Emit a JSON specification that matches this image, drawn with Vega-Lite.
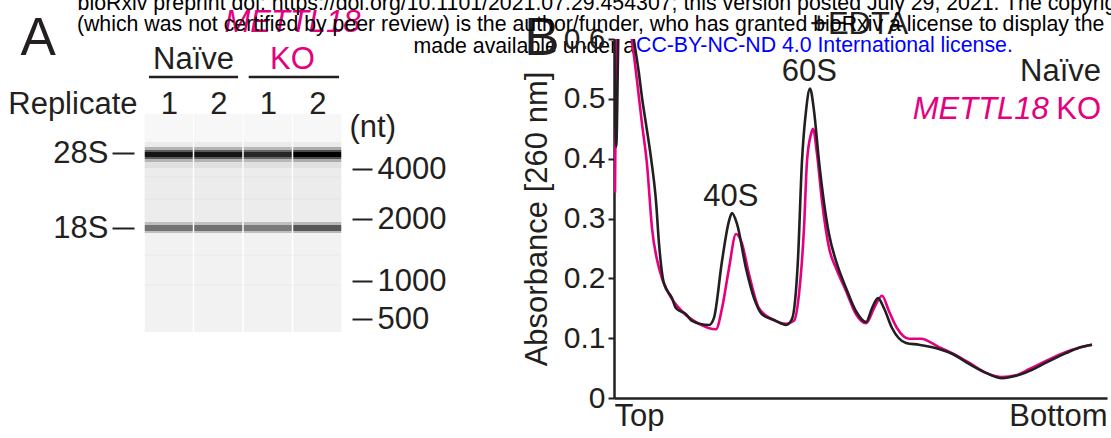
{
  "$schema": "https://vega.github.io/schema/vega-lite/v6.json",
  "background": "white",
  "padding": {"left": 7, "top": -8, "right": 0, "bottom": 0},
  "config": {
    "font": "Liberation Sans",
    "view": {"stroke": null},
    "axis": {"grid": false, "labelFont": "Liberation Sans", "titleFont": "Liberation Sans"},
    "text": {"font": "Liberation Sans"},
    "title": {"font": "Liberation Sans", "fontWeight": "normal"}
  },
  "title": {
    "text": ["bioRxiv preprint doi: https://doi.org/10.1101/2021.07.29.454307; this version posted July 29, 2021. The copyright holder for this preprint", "(which was not certified by peer review) is the author/funder, who has granted bioRxiv a license to display the preprint in perpetuity. It is"],
    "fontSize": 21.3, "fontWeight": "normal", "color": "#000000",
    "lineHeight": 21.5,
    "anchor": "middle", "offset": -28.5, "dx": 155
  },
  "datasets": {
    "gel": [
      {"lane":1,"top":0,"bottom":218,"density":0.05},{"lane":1,"top":0,"bottom":28,"density":0.03},{"lane":1,"top":28,"bottom":33,"density":0.08},{"lane":1,"top":33,"bottom":36,"density":0.3},{"lane":1,"top":36,"bottom":38,"density":0.64},{"lane":1,"top":38,"bottom":43,"density":0.92},{"lane":1,"top":43,"bottom":45,"density":0.64},{"lane":1,"top":45,"bottom":48,"density":0.3},{"lane":1,"top":48,"bottom":54,"density":0.12},{"lane":1,"top":54,"bottom":108,"density":0.075},{"lane":1,"top":62,"bottom":64,"density":0.09},{"lane":1,"top":84,"bottom":86,"density":0.09},{"lane":1,"top":108,"bottom":111,"density":0.25},{"lane":1,"top":111,"bottom":117,"density":0.55},{"lane":1,"top":117,"bottom":119,"density":0.25},{"lane":1,"top":140,"bottom":142,"density":0.065},{"lane":1,"top":170,"bottom":172,"density":0.065},
      {"lane":2,"top":0,"bottom":218,"density":0.05},{"lane":2,"top":0,"bottom":28,"density":0.03},{"lane":2,"top":28,"bottom":33,"density":0.08},{"lane":2,"top":33,"bottom":36,"density":0.3},{"lane":2,"top":36,"bottom":38,"density":0.64},{"lane":2,"top":38,"bottom":43,"density":0.92},{"lane":2,"top":43,"bottom":45,"density":0.64},{"lane":2,"top":45,"bottom":48,"density":0.3},{"lane":2,"top":48,"bottom":54,"density":0.12},{"lane":2,"top":54,"bottom":108,"density":0.075},{"lane":2,"top":62,"bottom":64,"density":0.09},{"lane":2,"top":84,"bottom":86,"density":0.09},{"lane":2,"top":108,"bottom":111,"density":0.25},{"lane":2,"top":111,"bottom":117,"density":0.56},{"lane":2,"top":117,"bottom":119,"density":0.25},{"lane":2,"top":140,"bottom":142,"density":0.065},{"lane":2,"top":170,"bottom":172,"density":0.065},
      {"lane":3,"top":0,"bottom":218,"density":0.05},{"lane":3,"top":0,"bottom":28,"density":0.03},{"lane":3,"top":28,"bottom":33,"density":0.08},{"lane":3,"top":33,"bottom":36,"density":0.28},{"lane":3,"top":36,"bottom":38,"density":0.6},{"lane":3,"top":38,"bottom":43,"density":0.85},{"lane":3,"top":43,"bottom":45,"density":0.6},{"lane":3,"top":45,"bottom":48,"density":0.28},{"lane":3,"top":48,"bottom":54,"density":0.12},{"lane":3,"top":54,"bottom":108,"density":0.075},{"lane":3,"top":62,"bottom":64,"density":0.09},{"lane":3,"top":84,"bottom":86,"density":0.09},{"lane":3,"top":108,"bottom":111,"density":0.25},{"lane":3,"top":111,"bottom":117,"density":0.52},{"lane":3,"top":117,"bottom":119,"density":0.25},{"lane":3,"top":140,"bottom":142,"density":0.065},{"lane":3,"top":170,"bottom":172,"density":0.065},
      {"lane":4,"top":0,"bottom":218,"density":0.05},{"lane":4,"top":0,"bottom":28,"density":0.03},{"lane":4,"top":28,"bottom":33,"density":0.08},{"lane":4,"top":33,"bottom":36,"density":0.33},{"lane":4,"top":36,"bottom":38,"density":0.7},{"lane":4,"top":38,"bottom":43,"density":1.0},{"lane":4,"top":43,"bottom":45,"density":0.7},{"lane":4,"top":45,"bottom":48,"density":0.33},{"lane":4,"top":48,"bottom":54,"density":0.12},{"lane":4,"top":54,"bottom":108,"density":0.075},{"lane":4,"top":62,"bottom":64,"density":0.09},{"lane":4,"top":84,"bottom":86,"density":0.09},{"lane":4,"top":108,"bottom":111,"density":0.28},{"lane":4,"top":111,"bottom":117,"density":0.66},{"lane":4,"top":117,"bottom":119,"density":0.28},{"lane":4,"top":140,"bottom":142,"density":0.065},{"lane":4,"top":170,"bottom":172,"density":0.065}
    ],
    "ladder": [{"nt":4000,"migration":55},{"nt":2000,"migration":105},{"nt":1000,"migration":167},{"nt":500,"migration":205}],
    "spans": [{"group":"Naïve","from":0.6,"to":2.4,"level":-37},{"group":"METTL18 KO","from":2.615,"to":4.44,"level":-37}],
    "headA": [
      {"label":"Naïve","lane":1.5,"migration":-45,"kind":"black","size":31},
      {"label":"KO","lane":3.5,"migration":-45,"kind":"ko","size":31},
      {"label":"METTL18","lane":3.5,"migration":-82,"kind":"italic","size":31},
      {"label":"A","lane":-1.64,"migration":-59,"kind":"black","size":53}
    ],
    "profile": [
      {"group":"METTL18 KO","position":0.2,"absorbance":0.343},{"group":"METTL18 KO","position":0.6,"absorbance":0.62},{"group":"METTL18 KO","position":1.5,"absorbance":0.68},{"group":"METTL18 KO","position":3.65,"absorbance":0.597},{"group":"METTL18 KO","position":4.67,"absorbance":0.53},{"group":"METTL18 KO","position":5.68,"absorbance":0.458},{"group":"METTL18 KO","position":6.69,"absorbance":0.391},{"group":"METTL18 KO","position":7.71,"absorbance":0.284},{"group":"METTL18 KO","position":9.13,"absorbance":0.217},{"group":"METTL18 KO","position":11.16,"absorbance":0.174},{"group":"METTL18 KO","position":13.79,"absorbance":0.145},{"group":"METTL18 KO","position":17.24,"absorbance":0.124},{"group":"METTL18 KO","position":20.69,"absorbance":0.115},{"group":"METTL18 KO","position":21.91,"absorbance":0.15},{"group":"METTL18 KO","position":23.33,"absorbance":0.217},{"group":"METTL18 KO","position":24.75,"absorbance":0.274},{"group":"METTL18 KO","position":25.96,"absorbance":0.258},{"group":"METTL18 KO","position":27.38,"absorbance":0.207},{"group":"METTL18 KO","position":29.41,"absorbance":0.15},{"group":"METTL18 KO","position":32.05,"absorbance":0.132},{"group":"METTL18 KO","position":34.89,"absorbance":0.124},{"group":"METTL18 KO","position":36.51,"absorbance":0.129},{"group":"METTL18 KO","position":37.53,"absorbance":0.174},{"group":"METTL18 KO","position":38.54,"absorbance":0.284},{"group":"METTL18 KO","position":39.15,"absorbance":0.396},{"group":"METTL18 KO","position":39.96,"absorbance":0.441},{"group":"METTL18 KO","position":40.37,"absorbance":0.45},{"group":"METTL18 KO","position":41.18,"absorbance":0.408},{"group":"METTL18 KO","position":42.19,"absorbance":0.329},{"group":"METTL18 KO","position":43.61,"absorbance":0.251},{"group":"METTL18 KO","position":45.03,"absorbance":0.217},{"group":"METTL18 KO","position":47.06,"absorbance":0.179},{"group":"METTL18 KO","position":49.09,"absorbance":0.14},{"group":"METTL18 KO","position":51.12,"absorbance":0.125},{"group":"METTL18 KO","position":52.74,"absorbance":0.15},{"group":"METTL18 KO","position":54.36,"absorbance":0.171},{"group":"METTL18 KO","position":55.78,"absorbance":0.145},{"group":"METTL18 KO","position":57.4,"absorbance":0.117},{"group":"METTL18 KO","position":59.84,"absorbance":0.099},{"group":"METTL18 KO","position":62.27,"absorbance":0.099},{"group":"METTL18 KO","position":65.92,"absorbance":0.085},{"group":"METTL18 KO","position":68.56,"absorbance":0.075},{"group":"METTL18 KO","position":72.01,"absorbance":0.059},{"group":"METTL18 KO","position":75.46,"absorbance":0.042},{"group":"METTL18 KO","position":78.7,"absorbance":0.035},{"group":"METTL18 KO","position":81.54,"absorbance":0.038},{"group":"METTL18 KO","position":84.18,"absorbance":0.048},{"group":"METTL18 KO","position":87.63,"absorbance":0.062},{"group":"METTL18 KO","position":91.68,"absorbance":0.077},{"group":"METTL18 KO","position":94.32,"absorbance":0.084},{"group":"METTL18 KO","position":96.96,"absorbance":0.089},
      {"group":"Naïve","position":0.0,"absorbance":0.64},{"group":"Naïve","position":0.45,"absorbance":0.42},{"group":"Naïve","position":1.0,"absorbance":0.64},{"group":"Naïve","position":2.5,"absorbance":0.68},{"group":"Naïve","position":4.06,"absorbance":0.597},{"group":"Naïve","position":5.07,"absorbance":0.542},{"group":"Naïve","position":5.68,"absorbance":0.502},{"group":"Naïve","position":6.49,"absorbance":0.458},{"group":"Naïve","position":7.51,"absorbance":0.401},{"group":"Naïve","position":8.52,"absorbance":0.329},{"group":"Naïve","position":9.13,"absorbance":0.258},{"group":"Naïve","position":10.14,"absorbance":0.191},{"group":"Naïve","position":11.76,"absorbance":0.167},{"group":"Naïve","position":12.58,"absorbance":0.15},{"group":"Naïve","position":14.6,"absorbance":0.14},{"group":"Naïve","position":15.82,"absorbance":0.129},{"group":"Naïve","position":19.27,"absorbance":0.122},{"group":"Naïve","position":20.28,"absorbance":0.134},{"group":"Naïve","position":21.91,"absorbance":0.229},{"group":"Naïve","position":23.33,"absorbance":0.296},{"group":"Naïve","position":23.94,"absorbance":0.309},{"group":"Naïve","position":24.95,"absorbance":0.291},{"group":"Naïve","position":26.77,"absorbance":0.217},{"group":"Naïve","position":28.4,"absorbance":0.167},{"group":"Naïve","position":30.02,"absorbance":0.14},{"group":"Naïve","position":32.86,"absorbance":0.129},{"group":"Naïve","position":34.89,"absorbance":0.122},{"group":"Naïve","position":36.1,"absorbance":0.132},{"group":"Naïve","position":37.3,"absorbance":0.229},{"group":"Naïve","position":38.13,"absorbance":0.396},{"group":"Naïve","position":38.95,"absorbance":0.48},{"group":"Naïve","position":39.76,"absorbance":0.517},{"group":"Naïve","position":40.57,"absorbance":0.48},{"group":"Naïve","position":41.58,"absorbance":0.396},{"group":"Naïve","position":43.61,"absorbance":0.274},{"group":"Naïve","position":45.23,"absorbance":0.224},{"group":"Naïve","position":47.06,"absorbance":0.184},{"group":"Naïve","position":49.09,"absorbance":0.145},{"group":"Naïve","position":51.12,"absorbance":0.127},{"group":"Naïve","position":52.33,"absorbance":0.15},{"group":"Naïve","position":53.55,"absorbance":0.167},{"group":"Naïve","position":54.77,"absorbance":0.15},{"group":"Naïve","position":56.39,"absorbance":0.117},{"group":"Naïve","position":59.23,"absorbance":0.092},{"group":"Naïve","position":61.87,"absorbance":0.089},{"group":"Naïve","position":65.92,"absorbance":0.082},{"group":"Naïve","position":68.56,"absorbance":0.074},{"group":"Naïve","position":72.01,"absorbance":0.057},{"group":"Naïve","position":75.46,"absorbance":0.042},{"group":"Naïve","position":78.7,"absorbance":0.033},{"group":"Naïve","position":81.54,"absorbance":0.037},{"group":"Naïve","position":84.18,"absorbance":0.045},{"group":"Naïve","position":87.63,"absorbance":0.059},{"group":"Naïve","position":91.68,"absorbance":0.075},{"group":"Naïve","position":94.32,"absorbance":0.084},{"group":"Naïve","position":96.96,"absorbance":0.089}
    ],
    "annotB": [
      {"label":"40S","position":23.7,"absorbance":0.321,"kind":"black","size":31},
      {"label":"60S","position":39.6,"absorbance":0.53,"kind":"black","size":31},
      {"label":"+EDTA","position":49.7,"absorbance":0.609,"kind":"black","size":31},
      {"label":"B","position":-14.6,"absorbance":0.574,"kind":"black","size":53},
      {"label":"Naïve","position":98.8,"absorbance":0.53,"kind":"legend","size":31},
      {"label":"METTL18","position":88.2,"absorbance":0.467,"kind":"italic","size":31},
      {"label":"KO","position":98.8,"absorbance":0.467,"kind":"ko","size":31}
    ]
  },
  "bounds": "flush",
  "spacing": 267,
  "hconcat": [
    {
      "width": 208,
      "height": 293,
      "title": {"text": "made available under a", "anchor": "end", "frame": "group", "dx": 288, "offset": -50, "fontSize": 21.3, "fontWeight": "normal", "color": "#000000"},
      "layer": [
        {
          "data": {"name": "gel"},
          "mark": {"type": "bar", "size": 48, "orient": "vertical"},
          "encoding": {
            "x": {"field": "lane", "type": "quantitative", "scale": {"domain": [0.5, 4.5], "nice": false, "zero": false},
              "axis": {"orient": "top", "offset": -75, "values": [1, 2, 3, 4], "labelExpr": "datum.value > 2 ? format(datum.value - 2, 'd') : format(datum.value, 'd')", "domain": false, "ticks": false, "tickSize": 0, "labelPadding": 1, "labelBaseline": "alphabetic", "labelAngle": 0, "labelFontSize": 31, "labelColor": "#231f20", "title": "Replicate", "titleFontSize": 31, "titleFontWeight": "normal", "titleColor": "#231f20", "titleAngle": 0, "titleAlign": "right", "titleBaseline": "alphabetic", "titleX": -2, "titleY": -1}},
            "y": {"field": "top", "type": "quantitative", "scale": {"domain": [-75, 218], "reverse": true, "nice": false, "zero": false},
              "axis": {"orient": "left", "offset": 5, "values": [39, 114], "labelExpr": "datum.value < 80 ? '28S' : '18S'", "domain": false, "tickSize": 22, "tickWidth": 2, "tickColor": "#231f20", "labelPadding": 4, "labelFontSize": 31, "labelColor": "#231f20", "title": null}},
            "y2": {"field": "bottom"},
            "color": {"field": "density", "type": "quantitative", "scale": {"domain": [0, 1], "range": ["#ffffff", "#000000"], "interpolate": "rgb"}, "legend": null}
          }
        },
        {
          "data": {"name": "ladder"},
          "mark": {"type": "point", "opacity": 0},
          "encoding": {
            "y": {"field": "migration", "type": "quantitative", "scale": {"domain": [-75, 218], "reverse": true, "nice": false, "zero": false},
              "axis": {"orient": "right", "offset": 5, "values": [55, 105, 167, 205], "labelExpr": "datum.value == 55 ? '4000' : datum.value == 105 ? '2000' : datum.value == 167 ? '1000' : '500'", "domain": false, "tickSize": 20, "tickWidth": 2, "tickColor": "#231f20", "labelPadding": 5, "labelFontSize": 31, "labelColor": "#231f20", "title": "(nt)", "titleFontSize": 31, "titleFontWeight": "normal", "titleColor": "#231f20", "titleAngle": 0, "titleAlign": "left", "titleBaseline": "alphabetic", "titleX": -3, "titleY": 97}}
          }
        },
        {
          "data": {"name": "spans"},
          "mark": {"type": "rule", "strokeWidth": 2.5, "color": "#231f20"},
          "encoding": {
            "x": {"field": "from", "type": "quantitative", "axis": null},
            "x2": {"field": "to"},
            "y": {"field": "level", "type": "quantitative", "axis": null}
          }
        },
        {
          "data": {"name": "headA"},
          "transform": [{"filter": "datum.kind == 'black'"}],
          "mark": {"type": "text", "color": "#231f20", "align": "center", "baseline": "alphabetic"},
          "encoding": {
            "x": {"field": "lane", "type": "quantitative", "axis": null},
            "y": {"field": "migration", "type": "quantitative", "axis": null},
            "text": {"field": "label"},
            "size": {"field": "size", "type": "quantitative", "scale": null}
          }
        },
        {
          "data": {"name": "headA"},
          "transform": [{"filter": "datum.kind == 'ko'"}],
          "mark": {"type": "text", "color": "#e5007f", "align": "center", "baseline": "alphabetic", "fontSize": 31},
          "encoding": {
            "x": {"field": "lane", "type": "quantitative", "axis": null},
            "y": {"field": "migration", "type": "quantitative", "axis": null},
            "text": {"field": "label"}
          }
        },
        {
          "data": {"name": "headA"},
          "transform": [{"filter": "datum.kind == 'italic'"}],
          "mark": {"type": "text", "color": "#e5007f", "align": "center", "baseline": "alphabetic", "fontSize": 31, "fontStyle": "italic"},
          "encoding": {
            "x": {"field": "lane", "type": "quantitative", "axis": null},
            "y": {"field": "migration", "type": "quantitative", "axis": null},
            "text": {"field": "label"}
          }
        }
      ],
      "resolve": {"axis": {"x": "independent", "y": "independent"}}
    },
    {
      "width": 493,
      "height": 359,
      "title": {"text": "CC-BY-NC-ND 4.0 International license.", "anchor": "start", "frame": "group", "dx": 22, "offset": -48, "fontSize": 21.3, "fontWeight": "normal", "color": "#0000ff"},
      "layer": [
        {
          "data": {"name": "profile"},
          "transform": [{"filter": "datum.group == 'METTL18 KO'"}],
          "mark": {"type": "line", "color": "#e5007f", "strokeWidth": 2.6, "interpolate": "monotone", "clip": true},
          "encoding": {
            "x": {"field": "position", "type": "quantitative", "scale": {"domain": [0, 100], "nice": false, "zero": false},
              "axis": {"orient": "bottom", "values": [0, 100], "labelExpr": "datum.value == 0 ? 'Top' : 'Bottom'", "labelFlush": true, "ticks": false, "labelPadding": 3, "labelFontSize": 31, "labelColor": "#231f20", "domainColor": "#231f20", "domainWidth": 2.5, "title": null}},
            "y": {"field": "absorbance", "type": "quantitative", "scale": {"domain": [0, 0.6], "nice": false},
              "axis": {"orient": "left", "values": [0, 0.1, 0.2, 0.3, 0.4, 0.5, 0.6], "labelExpr": "datum.value == 0 ? '0' : format(datum.value, '.1f')", "tickSize": 6, "tickWidth": 2, "tickColor": "#231f20", "domainColor": "#231f20", "domainWidth": 2.5, "labelFontSize": 30, "labelColor": "#231f20", "labelPadding": 3, "title": "Absorbance [260 nm]", "titleFontSize": 31, "titleFontWeight": "normal", "titleColor": "#231f20", "titlePadding": 10}}
          }
        },
        {
          "data": {"name": "profile"},
          "transform": [{"filter": "datum.group == 'Naïve'"}],
          "mark": {"type": "line", "color": "#231f20", "strokeWidth": 2.6, "interpolate": "monotone", "clip": true},
          "encoding": {
            "x": {"field": "position", "type": "quantitative", "axis": null},
            "y": {"field": "absorbance", "type": "quantitative", "axis": null}
          }
        },
        {
          "data": {"name": "annotB"},
          "transform": [{"filter": "datum.kind == 'black'"}],
          "mark": {"type": "text", "color": "#231f20", "align": "center", "baseline": "alphabetic"},
          "encoding": {
            "x": {"field": "position", "type": "quantitative", "axis": null},
            "y": {"field": "absorbance", "type": "quantitative", "axis": null},
            "text": {"field": "label"},
            "size": {"field": "size", "type": "quantitative", "scale": null}
          }
        },
        {
          "data": {"name": "annotB"},
          "transform": [{"filter": "datum.kind == 'legend'"}],
          "mark": {"type": "text", "color": "#231f20", "align": "right", "baseline": "alphabetic", "fontSize": 31},
          "encoding": {
            "x": {"field": "position", "type": "quantitative", "axis": null},
            "y": {"field": "absorbance", "type": "quantitative", "axis": null},
            "text": {"field": "label"}
          }
        },
        {
          "data": {"name": "annotB"},
          "transform": [{"filter": "datum.kind == 'ko'"}],
          "mark": {"type": "text", "color": "#e5007f", "align": "right", "baseline": "alphabetic", "fontSize": 31},
          "encoding": {
            "x": {"field": "position", "type": "quantitative", "axis": null},
            "y": {"field": "absorbance", "type": "quantitative", "axis": null},
            "text": {"field": "label"}
          }
        },
        {
          "data": {"name": "annotB"},
          "transform": [{"filter": "datum.kind == 'italic'"}],
          "mark": {"type": "text", "color": "#e5007f", "align": "right", "baseline": "alphabetic", "fontSize": 31, "fontStyle": "italic"},
          "encoding": {
            "x": {"field": "position", "type": "quantitative", "axis": null},
            "y": {"field": "absorbance", "type": "quantitative", "axis": null},
            "text": {"field": "label"}
          }
        }
      ],
      "resolve": {"axis": {"x": "independent", "y": "independent"}}
    }
  ]
}
